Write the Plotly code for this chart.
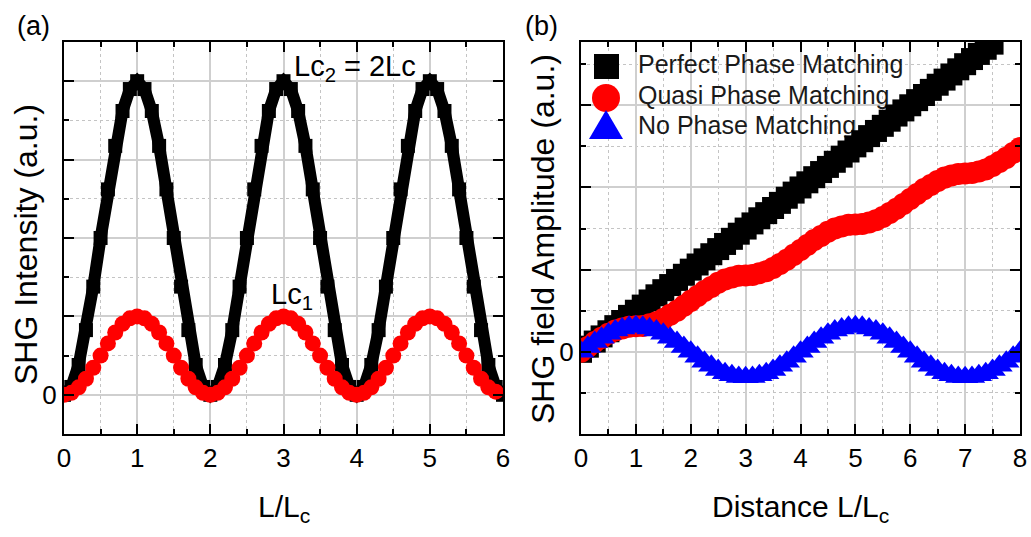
import plotly.graph_objects as go

W, H = 1031, 537
FONT = "Arial, Liberation Sans, sans-serif"

# ---- panel (a): SHG intensity vs L/Lc ----
x_a = [0.0, 0.1, 0.2, 0.3, 0.4, 0.5, 0.6, 0.7, 0.8, 0.9, 1.0, 1.1, 1.2, 1.3, 1.4, 1.5, 1.6, 1.7, 1.8, 1.9,
       2.0, 2.1, 2.2, 2.3, 2.4, 2.5, 2.6, 2.7, 2.8, 2.9, 3.0, 3.1, 3.2, 3.3, 3.4, 3.5, 3.6, 3.7, 3.8, 3.9,
       4.0, 4.1, 4.2, 4.3, 4.4, 4.5, 4.6, 4.7, 4.8, 4.9, 5.0, 5.1, 5.2, 5.3, 5.4, 5.5, 5.6, 5.7, 5.8, 5.9, 6.0]
lc2_a = [0, 0.20, 0.76, 1.65, 2.76, 4.00, 5.24, 6.35, 7.24, 7.80, 8.00, 7.80, 7.24, 6.35, 5.24, 4.00, 2.76, 1.65, 0.76, 0.20,
         0, 0.20, 0.76, 1.65, 2.76, 4.00, 5.24, 6.35, 7.24, 7.80, 8.00, 7.80, 7.24, 6.35, 5.24, 4.00, 2.76, 1.65, 0.76, 0.20,
         0, 0.20, 0.76, 1.65, 2.76, 4.00, 5.24, 6.35, 7.24, 7.80, 8.00, 7.80, 7.24, 6.35, 5.24, 4.00, 2.76, 1.65, 0.76, 0.20, 0]
lc1_a = [0, 0.05, 0.19, 0.41, 0.69, 1.00, 1.31, 1.59, 1.81, 1.95, 2.00, 1.95, 1.81, 1.59, 1.31, 1.00, 0.69, 0.41, 0.19, 0.05,
         0, 0.05, 0.19, 0.41, 0.69, 1.00, 1.31, 1.59, 1.81, 1.95, 2.00, 1.95, 1.81, 1.59, 1.31, 1.00, 0.69, 0.41, 0.19, 0.05,
         0, 0.05, 0.19, 0.41, 0.69, 1.00, 1.31, 1.59, 1.81, 1.95, 2.00, 1.95, 1.81, 1.59, 1.31, 1.00, 0.69, 0.41, 0.19, 0.08]

# ---- panel (b): SHG field amplitude vs distance ----
x_b = [0, 0.125, 0.25, 0.375, 0.5, 0.625, 0.75, 0.875, 1, 1.125, 1.25, 1.375, 1.5, 1.625, 1.75, 1.875,
       2, 2.125, 2.25, 2.375, 2.5, 2.625, 2.75, 2.875, 3, 3.125, 3.25, 3.375, 3.5, 3.625, 3.75, 3.875,
       4, 4.125, 4.25, 4.375, 4.5, 4.625, 4.75, 4.875, 5, 5.125, 5.25, 5.375, 5.5, 5.625, 5.75, 5.875,
       6, 6.125, 6.25, 6.375, 6.5, 6.625, 6.75, 6.875, 7, 7.125, 7.25, 7.375, 7.5, 7.625, 7.75, 7.875, 8]
perfect_b = [0, 0.125, 0.25, 0.375, 0.5, 0.625, 0.75, 0.875, 1, 1.125, 1.25, 1.375, 1.5, 1.625, 1.75, 1.875,
             2, 2.125, 2.25, 2.375, 2.5, 2.625, 2.75, 2.875, 3, 3.125, 3.25, 3.375, 3.5, 3.625, 3.75, 3.875,
             4, 4.125, 4.25, 4.375, 4.5, 4.625, 4.75, 4.875, 5, 5.125, 5.25, 5.375, 5.5, 5.625, 5.75, 5.875,
             6, 6.125, 6.25, 6.375, 6.5, 6.625, 6.75, 6.875, 7, 7.125, 7.25, 7.375, 7.5, 7.625, 7.75, 7.875, 8]
quasi_b = [0, 0.12, 0.24, 0.34, 0.44, 0.52, 0.57, 0.61, 0.62, 0.63, 0.67, 0.72, 0.80, 0.90, 1.00, 1.12,
           1.24, 1.36, 1.48, 1.58, 1.68, 1.76, 1.81, 1.85, 1.86, 1.87, 1.91, 1.96, 2.04, 2.14, 2.24, 2.36,
           2.48, 2.60, 2.72, 2.82, 2.92, 3.00, 3.05, 3.09, 3.10, 3.11, 3.15, 3.20, 3.28, 3.38, 3.48, 3.60,
           3.72, 3.84, 3.96, 4.06, 4.16, 4.24, 4.29, 4.33, 4.34, 4.35, 4.39, 4.44, 4.52, 4.62, 4.72, 4.84, 4.96]
none_b = [0, 0.12, 0.24, 0.34, 0.44, 0.52, 0.57, 0.61, 0.62, 0.61, 0.57, 0.52, 0.44, 0.34, 0.24, 0.12,
          0, -0.12, -0.24, -0.34, -0.44, -0.52, -0.57, -0.61, -0.62, -0.61, -0.57, -0.52, -0.44, -0.34, -0.24, -0.12,
          0, 0.12, 0.24, 0.34, 0.44, 0.52, 0.57, 0.61, 0.62, 0.61, 0.57, 0.52, 0.44, 0.34, 0.24, 0.12,
          0, -0.12, -0.24, -0.34, -0.44, -0.52, -0.57, -0.61, -0.62, -0.61, -0.57, -0.52, -0.44, -0.34, -0.24, -0.12, 0]

legend_names = ["Perfect Phase Matching", "Quasi Phase Matching", "No Phase Matching"]

# ticks
xa_ticks = [0, 1, 2, 3, 4, 5, 6]
xa_minor = [0.5, 1.5, 2.5, 3.5, 4.5, 5.5]
ya_ticks = [0, 2, 4, 6, 8]
ya_text = ["0", "", "", "", ""]
ya_minor = [-1, 1, 3, 5, 7, 9]
xb_ticks = [0, 1, 2, 3, 4, 5, 6, 7, 8]
xb_minor = [0.5, 1.5, 2.5, 3.5, 4.5, 5.5, 6.5, 7.5]
yb_ticks = [-2, 0, 2, 4, 6]
yb_text = ["", "0", "", "", ""]
yb_minor = [-1, 1, 3, 5, 7]

# plot boxes in pixels (left, right, top, bottom)
A_BOX = (64, 503, 42, 434)
B_BOX = (581, 1020, 42, 434)
YB_RANGE = [-2, 7.54]


def px(x):
    return x / W


def py(y):
    return 1 - y / H


fig = go.Figure()

fig.add_trace(go.Scatter(x=x_a, y=lc2_a, mode="lines+markers", xaxis="x", yaxis="y",
                         line=dict(color="black", width=12),
                         marker=dict(symbol="square", size=14, color="black"), showlegend=False))
fig.add_trace(go.Scatter(x=x_a[:len(lc1_a)], y=lc1_a, mode="markers", xaxis="x", yaxis="y",
                         marker=dict(symbol="circle", size=16, color="#ff0000"), showlegend=False))

# legend labels for panel (b), kept under the data like in the original
b_xscale = 8 / (B_BOX[1] - B_BOX[0])
b_yscale = (YB_RANGE[1] - YB_RANGE[0]) / (B_BOX[3] - B_BOX[2])
leg_x = [(638 - B_BOX[0]) * b_xscale] * 3
leg_y = [YB_RANGE[1] - (yy - B_BOX[2]) * b_yscale for yy in (67, 98, 128)]
fig.add_trace(go.Scatter(x=leg_x, y=leg_y, text=legend_names, mode="text", xaxis="x2", yaxis="y2",
                         textposition="middle right", cliponaxis=False,
                         textfont=dict(family=FONT, size=25, color="#1a1a1a"), showlegend=False))

fig.add_trace(go.Scatter(x=x_b, y=perfect_b, mode="markers", xaxis="x2", yaxis="y2",
                         marker=dict(symbol="square", size=22, color="black"), showlegend=False))
fig.add_trace(go.Scatter(x=x_b, y=quasi_b, mode="markers", xaxis="x2", yaxis="y2",
                         marker=dict(symbol="circle", size=22, color="#ff0000"), showlegend=False))
fig.add_trace(go.Scatter(x=x_b, y=none_b, mode="markers", xaxis="x2", yaxis="y2",
                         marker=dict(symbol="triangle-up", size=23, color="#0000ff"), showlegend=False))

tickfont = dict(family=FONT, size=26, color="black")


def xax(domain, rng, ticks, minor):
    return dict(domain=domain, range=rng, tickmode="array", tickvals=ticks,
                ticks="inside", ticklen=10, tickwidth=2, tickcolor="black",
                showline=True, linecolor="black", linewidth=2, mirror="ticks",
                showgrid=True, gridcolor="#cfcfcf", gridwidth=1.5, zeroline=False,
                minor=dict(tickvals=minor, ticks="inside", ticklen=5, tickwidth=2, tickcolor="black",
                           showgrid=True, gridcolor="#c4c4c4", griddash="dot", gridwidth=1.2),
                tickfont=tickfont, automargin=False, fixedrange=True)


def yax(domain, rng, ticks, text, minor):
    d = xax(domain, rng, ticks, minor)
    d["ticktext"] = text
    return d


fig.update_layout(
    width=W, height=H, autosize=False, template="none",
    margin=dict(l=0, r=0, t=0, b=0),
    plot_bgcolor="white", paper_bgcolor="white",
    xaxis=dict(xax([px(A_BOX[0]), px(A_BOX[1])], [0, 6], xa_ticks, xa_minor), anchor="y"),
    yaxis=dict(yax([py(A_BOX[3]), py(A_BOX[2])], [-1, 9], ya_ticks, ya_text, ya_minor), anchor="x"),
    xaxis2=dict(xax([px(B_BOX[0]), px(B_BOX[1])], [0, 8], xb_ticks, xb_minor), anchor="y2"),
    yaxis2=dict(yax([py(B_BOX[3]), py(B_BOX[2])], YB_RANGE, yb_ticks, yb_text, yb_minor), anchor="x2"),
    showlegend=False,
)

ann = []
big = dict(family=FONT, size=30, color="black")
ann.append(dict(x=px(33), y=py(26), text="(a)", font=dict(family=FONT, size=27, color="black")))
ann.append(dict(x=px(541), y=py(26), text="(b)", font=dict(family=FONT, size=27, color="black")))
ann.append(dict(x=px(284), y=py(508), text="L/L<sub>c</sub>", font=big))
ann.append(dict(x=px(800), y=py(508), text="Distance L/L<sub>c</sub>", font=big))
ann.append(dict(x=px(26), y=py(245), text="SHG Intensity (a.u.)", textangle=-90,
                font=dict(family=FONT, size=32, color="black")))
ann.append(dict(x=px(543), y=py(239), text="SHG field Amplitude (a.u.)", textangle=-90,
                font=dict(family=FONT, size=32, color="black")))
ann.append(dict(x=px(292), y=py(68), xanchor="left", text="Lc<sub>2</sub> = 2Lc",
                font=dict(family=FONT, size=29, color="black")))
ann.append(dict(x=px(269), y=py(296), xanchor="left", text="Lc<sub>1</sub>",
                font=dict(family=FONT, size=29, color="black")))
for a in ann:
    a.setdefault("xref", "paper")
    a.setdefault("yref", "paper")
    a.setdefault("showarrow", False)
    a.setdefault("xanchor", "center")
    a.setdefault("yanchor", "middle")
fig.update_layout(annotations=ann)

# legend keys
shapes = [
    dict(type="rect", x0=px(594), x1=px(619), y0=py(79), y1=py(54), fillcolor="black", line_width=0),
    dict(type="circle", x0=px(592), x1=px(620), y0=py(112), y1=py(84), fillcolor="#ff0000", line_width=0),
    dict(type="path", path="M %f,%f L %f,%f L %f,%f Z" % (px(589), py(139), px(623), py(139), px(606), py(110)),
         fillcolor="#0000ff", line_width=0),
]
for s in shapes:
    s["xref"] = "paper"
    s["yref"] = "paper"
fig.update_layout(shapes=shapes)

# the page body has a default 8px margin; drop it so the figure sits at the window's corner
fig.write_html("out.html", config={"displayModeBar": False},
               post_script="document.body.style.margin='0px';")
